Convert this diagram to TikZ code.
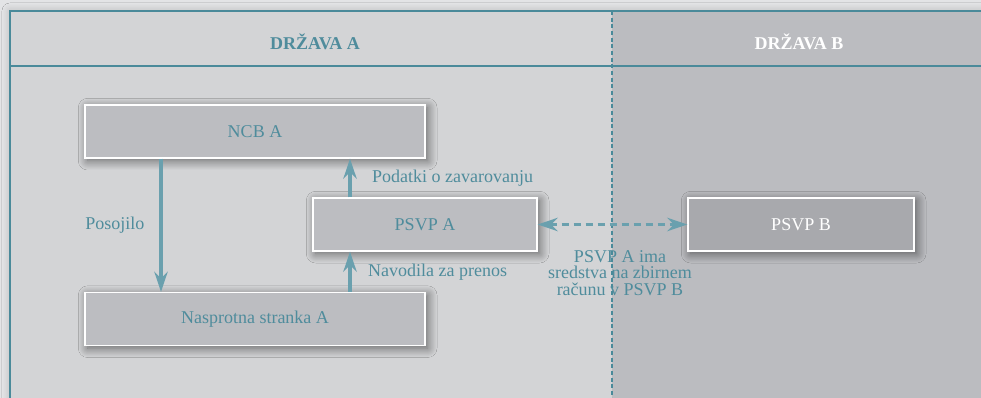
\documentclass[tikz,border=0pt]{standalone}
\usepackage{fontspec}
\setmainfont{Liberation Serif}
\usetikzlibrary{arrows.meta,shadows.blur}

\definecolor{bggrey}{HTML}{E3E4E6}
\definecolor{panelA}{HTML}{D3D4D6}
\definecolor{panelB}{HTML}{BBBCC0}
\definecolor{boxgrey}{HTML}{BCBDC1}
\definecolor{boxdark}{HTML}{A8A9AD}
\definecolor{tealtext}{HTML}{4F8C9C}
\definecolor{tealline}{HTML}{4A8A9A}
\definecolor{flowcol}{HTML}{6AA0AE}

\tikzset{
  flowtip/.tip={Stealth[length=15pt,width=10pt,inset=5pt]},
  txt/.style={font=\fontsize{13.5pt}{16pt}\selectfont, text=tealtext},
  head/.style={txt, font=\fontsize{13.5pt}{16pt}\selectfont\bfseries},
  box/.style={txt, draw=white, line width=1pt, fill=boxgrey, inner sep=0pt,
    minimum height=39.75pt,
    blur shadow={shadow xshift=2pt, shadow yshift=-2pt, shadow blur radius=7pt,
      shadow blur steps=14, shadow opacity=55}},
  flow/.style={draw=flowcol, line width=2.4pt, arrows={-flowtip}},
}

\begin{document}
\begin{tikzpicture}[x=0.75pt,y=-0.75pt]
        \useasboundingbox (0,0) rectangle (981,398);
        % background and the two countries
        \fill[bggrey] (0,0) rectangle (981,398);
        \fill[panelA, blur shadow={shadow xshift=0pt, shadow yshift=0pt, shadow blur radius=6pt,
              shadow blur steps=10, shadow opacity=20}] (10,11) rectangle (1000,420);
        \fill[panelB] (612,11) rectangle (981,398);
        \draw[tealline, line width=1pt] (10,398) -- (10,11) -- (981,11);
        \draw[tealline, line width=1pt] (10,66) -- (981,66);
        \draw[tealline, line width=0.9pt, dash pattern=on 3pt off 2pt] (612,11) -- (612,398);
        \node[head] (hA) at (315,42) {DRŽAVA A};
        \node[head, text=white] (hB) at (799,42) {DRŽAVA B};

        \node[box, minimum width=255pt] (ncb) at (255,131.5) {NCB A};
        \node[box, minimum width=168pt] (psvpa) at (425,224.5) {PSVP A};
        \node[box, minimum width=169.5pt, fill=boxdark, text=white] (psvpb) at (801,224.5) {PSVP B};
        \node[box, minimum width=255pt] (nasp) at (255,319) {Nasprotna stranka A};

        \draw[flow] ([xshift=-70.5pt]ncb.south) -- ([xshift=-70.5pt]nasp.north)
            node[txt, midway, left, xshift=-8pt] (posojilo) {Posojilo};
        \draw[flow] ([xshift=-56.25pt]psvpa.north) -- ([xshift=-56.25pt]psvpa.north |- ncb.south)
            node[txt, midway, right, xshift=12pt] (podatki) {Podatki o zavarovanju};
        \draw[flow] ([xshift=-56.25pt]nasp.north -| psvpa.north) -- ([xshift=-56.25pt]psvpa.south)
            node[txt, midway, right, xshift=9pt] (navodila) {Navodila za prenos};
        % account held at PSVP B
        \draw[flow, dash pattern=on 5.5pt off 3.5pt, arrows={flowtip-flowtip}] (psvpa.east) -- (psvpb.west);
        \node[txt, align=center, font=\fontsize{13.5pt}{12.5pt}\selectfont] (racun) at (620,273)
            {PSVP A ima\\sredstva na zbirnem\\računu v PSVP B};
\end{tikzpicture}
\end{document}
